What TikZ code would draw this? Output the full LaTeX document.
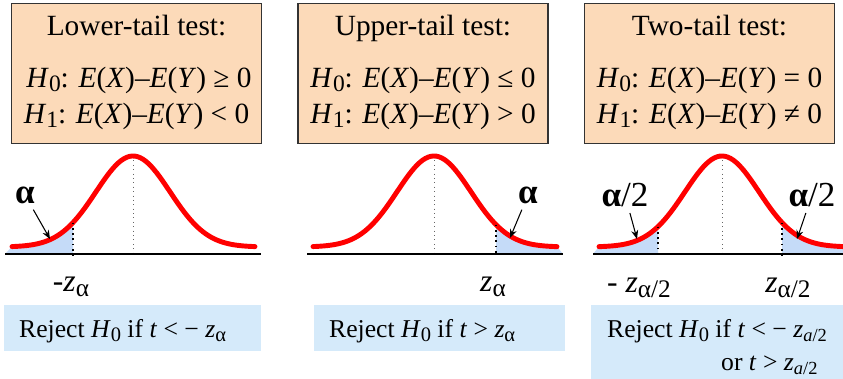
\documentclass[tikz,border=0pt]{standalone}
\usepackage{fontspec}
\setmainfont{Liberation Serif}
\usetikzlibrary{arrows.meta}

\definecolor{hypfill}{HTML}{FCDAB9}
\definecolor{rejfill}{HTML}{D5EAFA}
\definecolor{tailblue}{HTML}{C5DBF8}
\definecolor{curvered}{HTML}{FF0000}

% lowered, slightly smaller subscript
\newcommand{\lowsub}[1]{\raisebox{-0.35ex}{\scalebox{0.8}{#1}}}
% one hypothesis line: H_#1: E(X)-E(Y) #2 0
\newcommand{\hypline}[2]{\textit{H}\lowsub{#1}: \textit{E}(\textit{X})–\textit{E}(\textit{Y}) #2 0}

\begin{document}
\begin{tikzpicture}[x=0.02cm, y=-0.02cm,
    hypbox/.style={draw=black!80, line width=0.9pt, fill=hypfill,
      minimum width=5.0cm, minimum height=2.8cm, inner sep=0pt},
    rejbox/.style={fill=rejfill, inner sep=0pt},
    hyptext/.style={font=\fontsize{16.7}{20}\selectfont, anchor=base},
    rejtext/.style={font=\fontsize{14.6}{17}\selectfont, anchor=base west},
    zlabel/.style={font=\fontsize{18}{21}\selectfont, anchor=base},
    alphalabel/.style={font=\fontsize{20}{23}\selectfont},
    bellcurve/.style={curvered, line width=2.8pt, line cap=round},
    cutline/.style={black, dotted, line width=1pt},
    midline/.style={black!60, dotted, line width=0.5pt},
    axisline/.style={black, line width=1.1pt},
    ptr/.style={-{Stealth[length=5pt,width=4pt]}, line width=0.6pt},
    declare function={bell(\x,\c)=247-91*exp(-((\x-\c)*(\x-\c))/2738);}
  ]
  \useasboundingbox (0,0) rectangle (843,379);

  % Hypothesis boxes
  \node[hypbox] (hypA) at (136.5,73.5) {};
  \node[hypbox] (hypB) at (423,73.5) {};
  \node[hypbox] (hypC) at (709.5,73.5) {};

  \node[hyptext] (titleA) at (136.5,35) {Lower-tail test:};
  \node[hyptext] (titleB) at (423,35) {Upper-tail test:};
  \node[hyptext] (titleC) at (709.5,35) {Two-tail test:};

  \node[hyptext] (nullA) at (139,87) {\hypline{0}{≥}};
  \node[hyptext] (altA) at (136.5,123) {\hypline{1}{<}};
  \node[hyptext] (nullB) at (423,87) {\hypline{0}{≤}};
  \node[hyptext] (altB) at (423,123) {\hypline{1}{>}};
  \node[hyptext] (nullC) at (709.5,87) {\hypline{0}{=}};
  \node[hyptext] (altC) at (709.5,123) {\hypline{1}{≠}};

  % Shaded rejection regions
  \fill[tailblue] (5,254) -- plot[domain=12:73, samples=40] (\x,{bell(\x,133)}) -- (73,254) -- cycle;
  \fill[tailblue] (496,254) -- plot[domain=496:557, samples=40] (\x,{bell(\x,434)}) -- (563,254) -- cycle;
  \fill[tailblue] (593,254) -- plot[domain=599:658, samples=40] (\x,{bell(\x,722)}) -- (658,254) -- cycle;
  \fill[tailblue] (782,254) -- plot[domain=782:843, samples=40] (\x,{bell(\x,722)}) -- (843,254) -- cycle;

  % Curves, centre lines and axes
  \foreach \c/\a/\b/\l/\r in {133/12/255/5/261, 434/313/557/307/563, 722/599/843/593/843} {
    \draw[midline] (\c,{bell(\c,\c)}) -- (\c,254);
    \draw[bellcurve] plot[domain=\a:\b, samples=90] (\x,{bell(\x,\c)});
    \draw[axisline] (\l,254) -- (\r,254);
  }

  % Critical values
  \foreach \c/\z in {133/73, 434/496, 722/658, 722/782} {
    \draw[cutline] (\z,{bell(\z,\c)}) -- (\z,256);
  }

  % Alpha labels and pointers
  \node[alphalabel] (alphaA) at (25,195) {\textbf{α}};
  \node[alphalabel] (alphaB) at (528,195) {\textbf{α}};
  \node[alphalabel] (alphaCl) at (625,195) {\textbf{α}/2};
  \node[alphalabel] (alphaCr) at (812,195) {\textbf{α}/2};
  \coordinate (tipA) at (50,239);
  \coordinate (tipB) at (510,238);
  \coordinate (tipCl) at (637,239);
  \coordinate (tipCr) at (797,239);
  \draw[ptr] (alphaA) -- (tipA);
  \draw[ptr] (alphaB) -- (tipB);
  \draw[ptr] (alphaCl) -- (tipCl);
  \draw[ptr] (alphaCr) -- (tipCr);

  % Critical value labels
  \node[zlabel] (zA) at (71,291) {-\textit{z}\lowsub{α}};
  \node[zlabel] (zB) at (493,291) {\textit{z}\lowsub{α}};
  \node[zlabel] (zCl) at (639,292) {- \textit{z}\lowsub{α/2}};
  \node[zlabel] (zCr) at (788,292) {\textit{z}\lowsub{α/2}};

  % Decision rules
  \node[rejbox, minimum width=5.14cm, minimum height=0.92cm] (rejA) at (132.5,328) {};
  \node[rejbox, minimum width=5.02cm, minimum height=0.92cm] (rejB) at (439.5,328) {};
  \node[rejbox, minimum width=5.04cm, minimum height=1.48cm] (rejC) at (717,342) {};

  \node[rejtext] (ruleA) at (13,337) {Reject \textit{H}\lowsub{0} if \textit{t} < − \textit{z}\lowsub{α}};
  \node[rejtext] (ruleB) at (323,337) {Reject \textit{H}\lowsub{0} if \textit{t} > \textit{z}\lowsub{α}};
  \node[rejtext] (ruleC) at (601,337) {Reject \textit{H}\lowsub{0} if \textit{t} < − \textit{z}\lowsub{\scalebox{0.9}{\textit{a}/2}}};
  \node[rejtext] (ruleCb) at (715,370) {or \textit{t} > \textit{z}\lowsub{\scalebox{0.9}{\textit{a}/2}}};
\end{tikzpicture}
\end{document}
